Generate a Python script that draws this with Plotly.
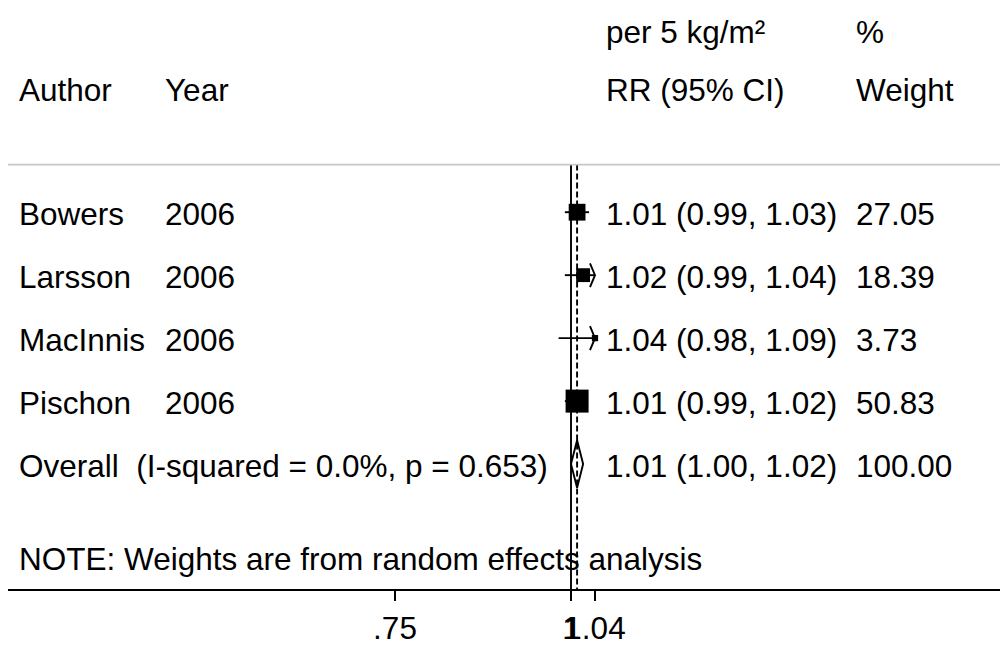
import math
import plotly.graph_objects as go

# ---------------- data ----------------
authors = ["Bowers", "Larsson", "MacInnis", "Pischon"]
years = ["2006", "2006", "2006", "2006"]
rr = [1.01, 1.02, 1.04, 1.01]
ci_lo = [0.99, 0.99, 0.98, 0.99]
ci_hi = [1.03, 1.04, 1.09, 1.02]
weights = [27.05, 18.39, 3.73, 50.83]
rr_labels = ["1.01 (0.99, 1.03)", "1.02 (0.99, 1.04)", "1.04 (0.98, 1.09)", "1.01 (0.99, 1.02)"]
weight_labels = ["27.05", "18.39", "3.73", "50.83"]

overall_label = "Overall  (I-squared = 0.0%, p = 0.653)"
overall_rr = 1.01
overall_lo = 1.00
overall_hi = 1.02
overall_rr_label = "1.01 (1.00, 1.02)"
overall_weight_label = "100.00"

note_text = "NOTE: Weights are from random effects analysis"
header_top = ["per 5 kg/m²", "%"]
header_main = ["Author", "Year", "RR (95% CI)", "Weight"]

tick_vals = [0.75, 1, 1.04]
tick_text = [".75", "1", "1.04"]
null_value = 1

# ---------------- layout constants ----------------
W, H = 1000, 646
ML, MR, MT, MB = 8, 0, 0, 52
PW, PH = W - ML - MR, H - MT - MB
FONT = "Liberation Sans, Arial, sans-serif"
FS = 31.5
X_ONE_PX = 571          # pixel of x = 1
PX_PER_LN = 611.8       # pixels per natural-log unit
ROW0_PX, ROW_STEP = 214, 63.5
LW = 1.9

def px_to_row(p):
    return 1 + (p - ROW0_PX) / ROW_STEP

def px_to_paper(p):
    return (p - ML) / PW

x_left_log10 = -(X_ONE_PX - ML) / PX_PER_LN / math.log(10)
x_right_log10 = (W - MR - X_ONE_PX) / PX_PER_LN / math.log(10)
x_clip = max(tick_vals)

y_top = px_to_row(0)
y_bot = px_to_row(PH)
y_rule = px_to_row(166)

fig = go.Figure()

# reference lines
fig.add_trace(go.Scatter(x=[null_value, null_value], y=[y_rule, y_bot], mode="lines",
                         line=dict(color="black", width=LW), hoverinfo="skip", showlegend=False))
fig.add_trace(go.Scatter(x=[overall_rr, overall_rr], y=[y_rule, y_bot], mode="lines",
                         line=dict(color="black", width=LW, dash="6px,3px"),
                         hoverinfo="skip", showlegend=False))

arrow_dx = 5 / PX_PER_LN
arrow_dy = 12 / ROW_STEP
wmax = max(weights)
for i in range(len(authors)):
    row = i + 1
    hi = min(ci_hi[i], x_clip)
    fig.add_trace(go.Scatter(x=[ci_lo[i], hi], y=[row, row], mode="lines",
                             line=dict(color="black", width=LW), hoverinfo="skip", showlegend=False))
    if ci_hi[i] >= x_clip:
        fig.add_trace(go.Scatter(x=[x_clip * math.exp(-arrow_dx), x_clip, x_clip * math.exp(-arrow_dx)],
                                 y=[row - arrow_dy, row, row + arrow_dy], mode="lines",
                                 line=dict(color="black", width=LW), hoverinfo="skip", showlegend=False))
    fig.add_trace(go.Scatter(x=[rr[i]], y=[row], mode="markers",
                             marker=dict(symbol="square", color="black",
                                         size=23 * math.sqrt(weights[i] / wmax), line=dict(width=0)),
                             hoverinfo="skip", showlegend=False))

# overall diamond
orow = len(authors) + 1
dh = 24 / ROW_STEP
fig.add_trace(go.Scatter(x=[overall_lo, overall_rr, overall_hi, overall_rr, overall_lo],
                         y=[orow, orow - dh, orow, orow + dh, orow], mode="lines",
                         line=dict(color="black", width=LW), hoverinfo="skip", showlegend=False))

# ---------------- text ----------------
ann = []
def txt(px, row, s):
    ann.append(dict(x=px_to_paper(px), xref="paper", y=row, yref="y", text=s, showarrow=False,
                    xanchor="left", yanchor="middle", yshift=-2,
                    font=dict(family=FONT, size=FS, color="black")))

COL_AUTH, COL_YEAR, COL_RR, COL_W = 17, 163, 604, 854
row_h1 = px_to_row(30)
row_h2 = px_to_row(89)
txt(COL_RR, row_h1, header_top[0])
txt(COL_W, row_h1, header_top[1])
for s, c in zip(header_main, [COL_AUTH, COL_YEAR, COL_RR, COL_W]):
    txt(c, row_h2, s)
for i in range(len(authors)):
    row = i + 1
    txt(COL_AUTH, row, authors[i])
    txt(COL_YEAR, row, years[i])
    txt(COL_RR, row, rr_labels[i])
    txt(COL_W, row, weight_labels[i])
txt(COL_AUTH, orow, overall_label)
txt(COL_RR, orow, overall_rr_label)
txt(COL_W, orow, overall_weight_label)
txt(COL_AUTH, px_to_row(562), note_text)

fig.update_layout(
    width=W, height=H,
    margin=dict(l=ML, r=MR, t=MT, b=MB, pad=0),
    paper_bgcolor="white", plot_bgcolor="white",
    annotations=ann,
    shapes=[dict(type="line", xref="paper", x0=0, x1=1, yref="y", y0=y_rule, y1=y_rule,
                 line=dict(color="#c8c8c8", width=1.6))],
    xaxis=dict(type="log", range=[x_left_log10, x_right_log10], tickvals=tick_vals, ticktext=tick_text,
               tickangle=0, showgrid=False, zeroline=False, showline=True, linecolor="black", linewidth=2,
               ticks="outside", ticklen=10, tickwidth=1.6, tickcolor="black",
               tickfont=dict(family=FONT, size=FS, color="black")),
    yaxis=dict(range=[y_bot, y_top], visible=False, showgrid=False, zeroline=False),
    showlegend=False,
)

fig.write_html("out.html")
